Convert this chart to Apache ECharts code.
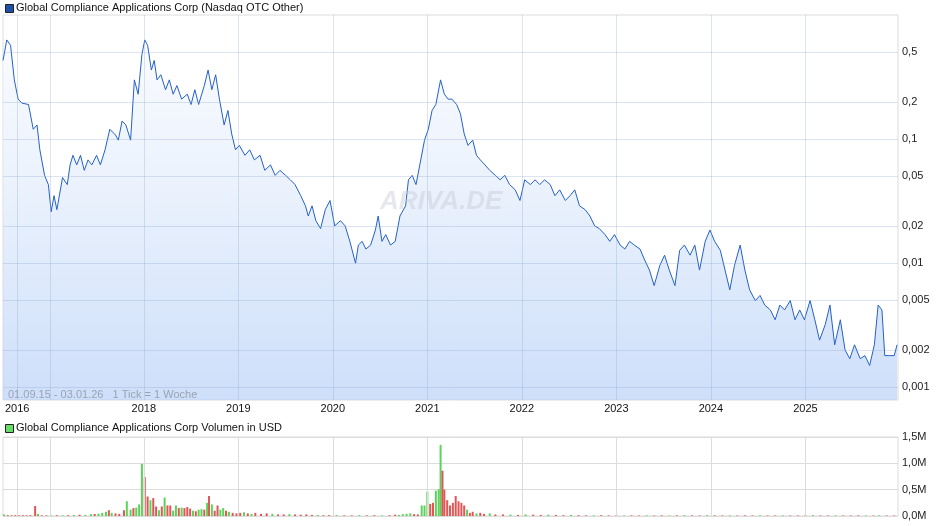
<!DOCTYPE html>
<html><head><meta charset="utf-8">
<script src="https://cdn.jsdelivr.net/npm/echarts@6/dist/echarts.min.js"></script>
<style>html,body{margin:0;padding:0;background:#fff}#c{width:940px;height:526px}</style>
</head><body><div id="c"></div>
<script>
const priceTitle = 'Global Compliance Applications Corp (Nasdaq OTC Other)';
const volumeTitle = 'Global Compliance Applications Corp Volumen in USD';
const priceTicks = [0.5,0.2,0.1,0.05,0.02,0.01,0.005,0.002,0.001];
const volumeTicks = [0,500000,1000000,1500000];
const yearLines = [[2016.66,'2016'],[2017.01,''],[2018,'2018'],[2019,'2019'],[2020,'2020'],[2021,'2021'],[2022,'2022'],[2023,'2023'],[2024,'2024'],[2025,'2025']];
const price = [[2016.51,0.43],[2016.55,0.63],[2016.59,0.57],[2016.63,0.30],[2016.67,0.21],[2016.71,0.195],[2016.78,0.19],[2016.83,0.12],[2016.87,0.13],[2016.90,0.082],[2016.95,0.051],[2016.99,0.043],[2017.02,0.026],[2017.05,0.035],[2017.08,0.027],[2017.14,0.049],[2017.19,0.043],[2017.22,0.062],[2017.25,0.074],[2017.29,0.062],[2017.33,0.074],[2017.37,0.056],[2017.41,0.068],[2017.45,0.062],[2017.50,0.074],[2017.54,0.062],[2017.59,0.082],[2017.64,0.12],[2017.70,0.108],[2017.73,0.098],[2017.77,0.14],[2017.81,0.13],[2017.86,0.098],[2017.90,0.30],[2017.94,0.23],[2017.98,0.48],[2018.01,0.63],[2018.04,0.57],[2018.08,0.36],[2018.11,0.43],[2018.14,0.30],[2018.18,0.33],[2018.23,0.25],[2018.27,0.30],[2018.31,0.23],[2018.35,0.27],[2018.40,0.21],[2018.46,0.23],[2018.50,0.19],[2018.54,0.25],[2018.58,0.19],[2018.64,0.27],[2018.68,0.36],[2018.72,0.25],[2018.76,0.33],[2018.80,0.21],[2018.85,0.13],[2018.89,0.17],[2018.93,0.11],[2018.97,0.082],[2019.01,0.089],[2019.07,0.074],[2019.12,0.082],[2019.17,0.068],[2019.23,0.074],[2019.28,0.056],[2019.34,0.062],[2019.39,0.051],[2019.44,0.056],[2019.50,0.051],[2019.55,0.047],[2019.60,0.043],[2019.66,0.035],[2019.71,0.029],[2019.74,0.024],[2019.78,0.029],[2019.82,0.022],[2019.87,0.019],[2019.92,0.027],[2019.97,0.032],[2020.02,0.020],[2020.08,0.022],[2020.13,0.020],[2020.18,0.015],[2020.24,0.010],[2020.27,0.014],[2020.31,0.015],[2020.35,0.013],[2020.40,0.014],[2020.45,0.0185],[2020.48,0.024],[2020.52,0.015],[2020.56,0.017],[2020.61,0.014],[2020.66,0.015],[2020.71,0.024],[2020.77,0.029],[2020.80,0.047],[2020.84,0.051],[2020.88,0.043],[2020.92,0.062],[2020.97,0.098],[2021.01,0.12],[2021.05,0.17],[2021.09,0.19],[2021.14,0.30],[2021.18,0.23],[2021.22,0.21],[2021.26,0.21],[2021.31,0.19],[2021.35,0.16],[2021.39,0.11],[2021.43,0.089],[2021.48,0.098],[2021.52,0.074],[2021.56,0.068],[2021.61,0.062],[2021.66,0.056],[2021.72,0.051],[2021.77,0.047],[2021.82,0.051],[2021.87,0.043],[2021.93,0.039],[2021.98,0.032],[2022.03,0.047],[2022.09,0.043],[2022.14,0.047],[2022.19,0.043],[2022.24,0.047],[2022.30,0.043],[2022.35,0.035],[2022.40,0.039],[2022.46,0.032],[2022.51,0.035],[2022.56,0.039],[2022.61,0.029],[2022.67,0.027],[2022.72,0.024],[2022.77,0.020],[2022.82,0.019],[2022.88,0.017],[2022.93,0.015],[2022.98,0.017],[2023.04,0.014],[2023.09,0.013],[2023.14,0.015],[2023.19,0.014],[2023.25,0.013],[2023.30,0.0106],[2023.35,0.0088],[2023.40,0.0066],[2023.46,0.0096],[2023.51,0.0116],[2023.56,0.0088],[2023.62,0.0066],[2023.67,0.0127],[2023.72,0.014],[2023.78,0.0116],[2023.83,0.014],[2023.88,0.0088],[2023.94,0.015],[2023.99,0.0185],[2024.04,0.015],[2024.10,0.0127],[2024.15,0.0088],[2024.20,0.0061],[2024.25,0.0096],[2024.31,0.014],[2024.36,0.0088],[2024.41,0.0061],[2024.47,0.0050],[2024.52,0.0055],[2024.57,0.0046],[2024.63,0.0042],[2024.68,0.0035],[2024.73,0.0046],[2024.78,0.0042],[2024.84,0.0050],[2024.89,0.0035],[2024.94,0.0042],[2024.99,0.0035],[2025.05,0.0050],[2025.10,0.0035],[2025.15,0.0024],[2025.21,0.0032],[2025.26,0.0046],[2025.31,0.0022],[2025.37,0.0035],[2025.42,0.0020],[2025.47,0.0017],[2025.52,0.0022],[2025.58,0.0017],[2025.63,0.0018],[2025.68,0.0015],[2025.73,0.0022],[2025.77,0.0046],[2025.81,0.0042],[2025.84,0.0018],[2025.89,0.0018],[2025.94,0.0018],[2025.97,0.0022]];
// [year, volume, 1=up(green) / 0=down(red)]
const volume = [[2016.52,30000,1],[2016.56,15000,0],[2016.60,12000,0],[2016.64,15000,0],[2016.68,12000,0],[2016.72,15000,0],[2016.76,12000,0],[2016.80,15000,0],[2016.85,190000,0],[2016.88,40000,1],[2016.92,12000,0],[2016.97,12000,0],[2017.02,12000,1],[2017.08,15000,0],[2017.14,12000,1],[2017.20,15000,0],[2017.26,20000,1],[2017.32,25000,0],[2017.38,20000,1],[2017.44,35000,1],[2017.48,40000,0],[2017.52,45000,1],[2017.56,60000,1],[2017.60,80000,1],[2017.63,110000,0],[2017.66,60000,1],[2017.70,50000,0],[2017.74,40000,0],[2017.79,110000,0],[2017.82,280000,1],[2017.86,120000,1],[2017.89,150000,0],[2017.92,160000,1],[2017.95,220000,1],[2017.98,990000,1],[2018.01,740000,0],[2018.04,370000,0],[2018.07,300000,1],[2018.10,340000,0],[2018.13,180000,0],[2018.16,110000,1],[2018.19,180000,0],[2018.22,350000,1],[2018.25,200000,0],[2018.28,200000,0],[2018.31,100000,1],[2018.34,200000,1],[2018.37,150000,0],[2018.40,160000,1],[2018.43,150000,0],[2018.46,170000,0],[2018.49,140000,0],[2018.52,100000,1],[2018.55,90000,0],[2018.58,120000,1],[2018.61,130000,1],[2018.64,120000,0],[2018.67,250000,1],[2018.69,380000,0],[2018.72,220000,1],[2018.75,100000,0],[2018.78,200000,0],[2018.81,120000,1],[2018.84,150000,1],[2018.87,100000,0],[2018.90,80000,1],[2018.94,60000,0],[2018.98,50000,0],[2019.02,60000,0],[2019.06,70000,1],[2019.10,50000,0],[2019.14,40000,1],[2019.18,60000,0],[2019.24,40000,0],[2019.30,50000,0],[2019.36,40000,1],[2019.42,30000,0],[2019.48,30000,0],[2019.54,35000,1],[2019.60,30000,0],[2019.66,25000,0],[2019.72,30000,0],[2019.78,20000,0],[2019.84,20000,1],[2019.90,15000,0],[2019.96,15000,0],[2020.04,15000,1],[2020.12,12000,0],[2020.20,12000,0],[2020.28,15000,1],[2020.36,12000,0],[2020.44,15000,0],[2020.52,12000,1],[2020.60,15000,0],[2020.66,25000,0],[2020.70,20000,1],[2020.74,35000,1],[2020.78,40000,1],[2020.82,50000,1],[2020.86,35000,0],[2020.90,30000,0],[2020.94,200000,1],[2020.97,200000,1],[2021.00,460000,1],[2021.03,230000,0],[2021.06,250000,0],[2021.09,480000,1],[2021.12,510000,1],[2021.14,1350000,1],[2021.16,860000,0],[2021.18,500000,0],[2021.21,300000,0],[2021.24,200000,0],[2021.27,250000,0],[2021.30,380000,0],[2021.33,280000,0],[2021.36,250000,0],[2021.39,200000,0],[2021.42,120000,1],[2021.45,60000,0],[2021.48,80000,0],[2021.52,50000,1],[2021.56,60000,0],[2021.60,40000,0],[2021.66,50000,1],[2021.72,30000,0],[2021.80,30000,0],[2021.88,25000,1],[2021.96,20000,0],[2022.04,30000,1],[2022.12,25000,0],[2022.20,20000,0],[2022.28,25000,1],[2022.36,20000,0],[2022.44,15000,0],[2022.52,20000,1],[2022.60,15000,0],[2022.68,12000,0],[2022.76,12000,1],[2022.84,15000,0],[2022.92,10000,0],[2023.00,12000,0],[2023.08,10000,1],[2023.16,12000,0],[2023.24,10000,0],[2023.32,12000,1],[2023.40,10000,0],[2023.48,12000,0],[2023.56,10000,1],[2023.64,12000,0],[2023.72,15000,1],[2023.80,12000,0],[2023.88,10000,0],[2023.96,15000,1],[2024.04,12000,0],[2024.12,10000,0],[2024.20,12000,1],[2024.28,10000,0],[2024.36,12000,0],[2024.44,10000,0],[2024.52,12000,1],[2024.60,10000,0],[2024.68,10000,0],[2024.76,12000,1],[2024.84,10000,0],[2024.92,10000,0],[2025.00,12000,0],[2025.08,15000,1],[2025.16,10000,0],[2025.24,10000,0],[2025.32,12000,1],[2025.40,10000,0],[2025.48,10000,0],[2025.56,12000,0],[2025.64,10000,1],[2025.72,10000,0],[2025.78,12000,1],[2025.86,10000,0],[2025.94,10000,0]];

const xMin = 2016.51, xMax = 2025.98;
const yMinLog = Math.log10(0.00079), yMaxLog = 0;
const fmtNum = v => String(v).replace('.', ',');
const fmtVol = v => (v/1e6).toFixed(1).replace('.', ',') + 'M';
const gridC = '#dcdcdc';
const innerGridC = 'rgba(140,165,205,0.3)';
const FONT = 'Liberation Sans';

const chart = echarts.init(document.getElementById('c'));
chart.setOption({
  animation:false,
  textStyle:{fontFamily:FONT},
  grid:[
    {left:3,right:42,top:15,height:385,show:true,borderColor:gridC,borderWidth:1},
    {left:3,right:42,top:437,height:79,show:true,borderColor:gridC,borderWidth:1}
  ],
  xAxis:[
    {type:'value',gridIndex:0,min:xMin,max:xMax,axisLabel:{show:false},axisTick:{show:false},axisLine:{show:false},splitLine:{show:false}},
    {type:'value',gridIndex:1,min:xMin,max:xMax,axisLabel:{show:false},axisTick:{show:false},axisLine:{show:false},splitLine:{show:false}}
  ],
  yAxis:[
    {type:'value',gridIndex:0,min:yMinLog,max:yMaxLog,position:'right',axisLabel:{show:false},axisTick:{show:false},axisLine:{show:false},splitLine:{show:false}},
    {type:'value',gridIndex:1,min:0,max:1500000,interval:500000,position:'right',
     axisLabel:{formatter:fmtVol,color:'#222',fontSize:11,margin:4},axisTick:{show:false},axisLine:{show:false},
     splitLine:{lineStyle:{color:gridC}}}
  ],
  graphic:[
    {type:'rect',left:5,top:4,shape:{width:8,height:8},style:{fill:'#1f4fa8',stroke:'#222',lineWidth:1}},
    {type:'text',left:16,top:2,style:{text:priceTitle,fontSize:11,fill:'#111',fontFamily:FONT}},
    {type:'rect',left:5,top:424,shape:{width:8,height:8},style:{fill:'#66dd66',stroke:'#222',lineWidth:1}},
    {type:'text',left:16,top:422,style:{text:volumeTitle,fontSize:11,fill:'#111',fontFamily:FONT}},
    {type:'text',left:8,top:389,z:10,style:{text:'01.09.15 - 03.01.26   1 Tick = 1 Woche',fontSize:11,fill:'#9aa3b0',fontFamily:FONT}},
    {type:'text',left:380,top:189,z:10,style:{text:'ARIVA.DE',fontSize:26,fontWeight:'bold',fontStyle:'italic',fill:'rgba(200,205,215,0.45)',fontFamily:FONT}}
  ],
  series:[
    {type:'line',xAxisIndex:0,yAxisIndex:0,data:price.map(p=>[p[0],Math.log10(p[1])]),showSymbol:false,symbol:'none',
     lineStyle:{color:'#2460c8',width:1},
     areaStyle:{origin:'start',color:new echarts.graphic.LinearGradient(0,0,0,1,[{offset:0,color:'#f6f9fe'},{offset:0.4,color:'#e2ecfb'},{offset:0.75,color:'#c9dcf9'},{offset:1,color:'#b8d0f7'}])},
     markLine:{silent:true,symbol:'none',animation:false,
       lineStyle:{color:innerGridC,type:'solid',width:1},
       data:[
         ...priceTicks.map(v=>({yAxis:Math.log10(v),label:{show:true,position:'end',formatter:fmtNum(v),color:'#222',fontSize:11,distance:4}})),
         ...yearLines.map(y=>({xAxis:y[0],label:{show:!!y[1],position:'start',formatter:y[1],color:'#111',fontSize:11,distance:3}}))
       ]}},
    {type:'bar',xAxisIndex:1,yAxisIndex:1,barWidth:2,
     data:volume.map(d=>({value:[d[0],d[1]],itemStyle:{color:d[2]?'#5ad35a':'#e05656'}})),
     markLine:{silent:true,symbol:'none',animation:false,label:{show:false},
       lineStyle:{color:gridC,type:'solid',width:1},
       data:yearLines.map(y=>({xAxis:y[0]}))}}
  ]
});
</script></body></html>
